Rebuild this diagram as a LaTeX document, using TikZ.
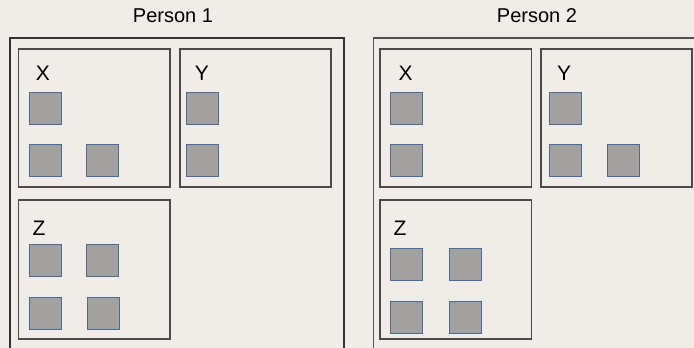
\documentclass[tikz,border=0pt]{standalone}
\usepackage{fontspec}
\setmainfont{Liberation Sans}
\definecolor{bg}{HTML}{F0EDE8}
\definecolor{sqfill}{HTML}{A3A19E}
\definecolor{sqedge}{HTML}{4A6A9A}
\definecolor{boxline}{HTML}{4A4A4A}
\begin{document}
\begin{tikzpicture}[x=1pt,y=-1pt,
  sq/.style={rectangle,minimum width=32pt,minimum height=32pt,inner sep=0pt,fill=sqfill,draw=sqedge,line width=1pt},
  grp/.style={draw=boxline,line width=1.3pt},
  outer/.style={draw=black!80,line width=1.6pt},
  lbl/.style={inner sep=0pt,font=\fontsize{21}{25}\selectfont},
  ttl/.style={inner sep=0pt,font=\fontsize{20}{24}\selectfont}]
\fill[bg] (0,0) rectangle (694,348);
\useasboundingbox (0,0) rectangle (694,348);
\clip (0,0) rectangle (694,348);
% Person 1
\node[ttl] (t1) at (173,16) {Person 1};
\draw[outer] (10,360) |- (344,37.7) -- (344,360);
\draw[grp] (18.7,49) rectangle (170,187);
\draw[grp] (180,49) rectangle (331,187);
\draw[grp] (18.7,200) rectangle (170,339);
\node[lbl] (p1xl) at (43,73) {X};
\node[lbl] (p1yl) at (202,73) {Y};
\node[lbl] (p1zl) at (39,228) {Z};
\node[sq] (p1x1) at (45.5,108.5) {};
\node[sq] (p1x2) at (45.5,160) {};
\node[sq] (p1x3) at (102.5,160) {};
\node[sq] (p1y1) at (202.5,108.5) {};
\node[sq] (p1y2) at (202.5,160) {};
\node[sq] (p1z1) at (45.5,260) {};
\node[sq] (p1z2) at (102.5,260) {};
\node[sq] (p1z3) at (45.5,313.5) {};
\node[sq] (p1z4) at (103,313.5) {};
% Person 2
\node[ttl] (t2) at (537,16) {Person 2};
\draw[outer,draw=black!68] (373.3,360) |- (700,37.7);
\draw[grp] (380,49) rectangle (531.7,187);
\draw[grp] (541,49) rectangle (692,187);
\draw[grp] (380,200) rectangle (531.7,339);
\node[lbl] (p2xl) at (405.7,73) {X};
\node[lbl] (p2yl) at (564,73) {Y};
\node[lbl] (p2zl) at (400,228) {Z};
\node[sq] (p2x1) at (406,108.5) {};
\node[sq] (p2x2) at (406,160) {};
\node[sq] (p2y1) at (565,108.5) {};
\node[sq] (p2y2) at (565,160) {};
\node[sq] (p2y3) at (623.5,160) {};
\node[sq] (p2z1) at (406,264.5) {};
\node[sq] (p2z2) at (465,264.5) {};
\node[sq] (p2z3) at (406,317) {};
\node[sq] (p2z4) at (465,317) {};
\end{tikzpicture}
\end{document}
